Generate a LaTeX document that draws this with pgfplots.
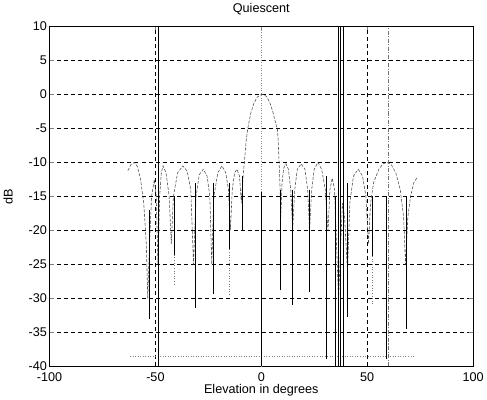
\documentclass[border=0pt]{standalone}
\usepackage{fontspec}
\setmainfont{Liberation Sans}
\usepackage{pgfplots}
\pgfplotsset{compat=1.18}
\begin{document}
\begin{tikzpicture}
\begin{axis}[
    width=419pt, height=336pt, scale only axis,
    xmin=-100, xmax=100, ymin=-40, ymax=10,
    xtick={-100,-50,0,50,100},
    ytick={-40,-35,...,10},
    tick align=inside,
    major tick length=4pt,
    ymajorgrids=true,
    grid style={black, dashed, line width=0.7pt, dash pattern=on 4pt off 3pt},
    axis line style={line width=0.8pt},
    title={Quiescent},
    xlabel={Elevation in degrees},
    ylabel={dB},
    title style={font=\fontsize{12.5}{14}\selectfont, yshift=2pt},
    label style={font=\fontsize{12.5}{14}\selectfont},
    xlabel style={yshift=4pt},
    ylabel style={yshift=9pt},
    tick label style={font=\fontsize{12.5}{14}\selectfont},
    xticklabel style={yshift=-2.5pt},
    yticklabel style={xshift=1pt},
    /pgf/number format/assume math mode=true,
    unbounded coords=jump,
    clip=true,
]
% vertical grid lines
\addplot[black, line width=0.7pt, dash pattern=on 4pt off 3pt] coordinates {(-50,-40) (-50,10)};
\addplot[black, line width=0.7pt, dash pattern=on 4pt off 3pt] coordinates {(50,-40) (50,10)};
\addplot[black!45, line width=0.5pt, dotted] coordinates {(0,-40) (0,10)};
% floor
\addplot[black!50, line width=0.5pt, dotted] coordinates {(-62,-38.6) (72,-38.6)};
% quiescent pattern
\addplot[black!70, line width=0.55pt, dash pattern=on 3pt off 1.5pt] coordinates {
(-63,-11.2) (-61.5,-10.3) (-60,-10) (-58.5,-10.6) (-57,-12.5) (-55.5,-16) (-54.3,-22) (-53.6,-30)
(-52.8,-22) (-51.8,-15) (-50.5,-12.5) (-49.6,-15) (-48.8,-25)
(-48,-15) (-47.2,-11.5) (-46.4,-10.5) (-45,-11.5) (-43.5,-15) (-42.5,-22)
(-41.5,-15) (-39.5,-11.5) (-37,-10.5) (-35,-11.3) (-33.3,-14) (-32,-25)
(-30.8,-15) (-29.3,-11.8) (-27.4,-11) (-25.6,-12) (-24.3,-15) (-23.4,-25)
(-22.4,-15) (-20.5,-11.5) (-18.6,-10.5) (-16.8,-11.5) (-15.5,-14) (-14.6,-20)
(-13.7,-14) (-12.6,-11.5) (-11.5,-11) (-10.3,-12) (-9.4,-16)
(-8.6,-12) (-8,-10) (-7.2,-7) (-6.4,-5) (-5,-2.8) (-3.5,-1.3) (-2,-0.4) (0,0) (1,0)
(2.5,-0.3) (4,-1.2) (5.5,-2.6) (7,-4.5) (7.6,-5) (8,-7) (8.4,-10) (8.9,-14) (9.2,-18)
(9.8,-13) (10.6,-10.8) (11.6,-10.2) (12.8,-11) (13.9,-14) (14.8,-20)
(15.8,-14) (17,-11) (18.8,-10.2) (20.6,-11) (21.9,-14) (22.8,-20)
(23.8,-14) (25,-11) (26.7,-10) (28.5,-11) (30.2,-14) (31.5,-20)
(32.4,-14) (33.5,-12.3) (34.6,-14) (35.5,-22) (36.5,-30) (37.5,-22) (38.3,-16) (39.3,-18) (40.7,-26)
(41.8,-16) (43.5,-12) (45.8,-11) (47.8,-12) (49.4,-15) (50.6,-22)
(51.6,-16) (53,-13) (55.5,-11) (57.5,-10.2) (59.3,-10) (61.3,-10.3) (63.5,-11.5) (65.6,-14) (67.2,-18) (68.1,-25)
(69.2,-18) (70.5,-15) (72,-13) (73.6,-12.2)
};
% adapted nulls
\addplot[black, line width=0.8pt] coordinates {
(-52.8,-17) (-52.8,-33) (nan,nan)
(-48.8,-40) (-48.8,10) (nan,nan)
(-41.2,-15) (-41.2,-23.6) (nan,nan)
(-31.3,-13) (-31.3,-31.5) (nan,nan)
(-22.6,-13) (-22.6,-29.3) (nan,nan)
(-15.1,-13) (-15.1,-22.8) (nan,nan)
(-9,-12) (-9,-20) (nan,nan)
(0,-14.4) (0,-40) (nan,nan)
(8.9,-14) (8.9,-28.8) (nan,nan)
(14.6,-14) (14.6,-31) (nan,nan)
(22.6,-14) (22.6,-29) (nan,nan)
(30.9,-12) (30.9,-39) (nan,nan)
(34.8,-15) (34.8,-40) (nan,nan)
(36.2,-40) (36.2,10) (nan,nan)
(37.3,-40) (37.3,10) (nan,nan)
(38.8,-40) (38.8,10) (nan,nan)
(40.7,-13) (40.7,-32.7) (nan,nan)
(52.4,-15) (52.4,-23.8) (nan,nan)
(59.2,-15) (59.2,-39) (nan,nan)
(68.6,-15) (68.6,-34.5)
};
\addplot[black!55, line width=0.6pt, dotted] coordinates {
(-41.2,-23.6) (-41.2,-28) (nan,nan)
(-15.1,-22.8) (-15.1,-29.5) (nan,nan)
(52.4,-23.8) (52.4,-31)
};
\addplot[black!55, line width=0.6pt, dash pattern=on 4pt off 1.5pt on 1pt off 1.5pt] coordinates {(59.8,-40) (59.8,10)};
\end{axis}
\end{tikzpicture}
\end{document}
